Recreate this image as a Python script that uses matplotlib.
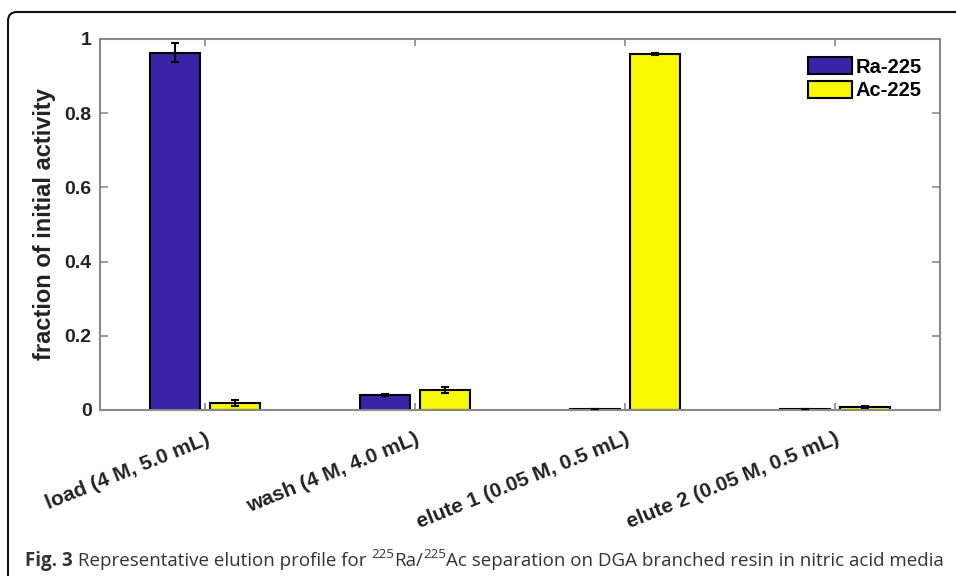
import numpy as np
import matplotlib
matplotlib.use("Agg")
import matplotlib.pyplot as plt
from matplotlib.patches import FancyBboxPatch, Patch
from matplotlib.transforms import IdentityTransform

# values
steps = ["load (4 M, 5.0 mL)", "wash (4 M, 4.0 mL)",
         "elute 1 (0.05 M, 0.5 mL)", "elute 2 (0.05 M, 0.5 mL)"]
ra = [0.963, 0.040, 0.002, 0.002]
ra_err = [0.026, 0.003, 0.0, 0.0]
ac = [0.020, 0.054, 0.960, 0.008]
ac_err = [0.008, 0.007, 0.003, 0.002]
series_names = ["Ra-225", "Ac-225"]
yticks = [0, 0.2, 0.4, 0.6, 0.8, 1]

blue = "#3b22a6"
yellow = "#f8f800"
grey = "#8a8a8a"

fig = plt.figure(figsize=(9.56, 5.76), dpi=100)
ax = fig.add_axes([0.1046, 0.2882, 0.8787, 0.6441])

x = np.arange(1, len(steps) + 1)
w = 0.238
off = 0.143
ax.bar(x - off, ra, w, color=blue, edgecolor="black", linewidth=1.5, zorder=2)
ax.bar(x + off, ac, w, color=yellow, edgecolor="black", linewidth=1.5, zorder=2)
ax.errorbar(x - off, ra, yerr=ra_err, fmt="none", ecolor="black",
            elinewidth=1.5, capsize=3, capthick=1.5, zorder=3)
ax.errorbar(x + off, ac, yerr=ac_err, fmt="none", ecolor="black",
            elinewidth=1.5, capsize=3, capthick=1.5, zorder=3)

ax.set_xlim(0.5, 4.5)
ax.set_ylim(0, 1)
ax.set_xticks(x)
ax.set_yticks(yticks)
ax.set_yticklabels([f"{t:g}" for t in yticks], fontsize=14, fontweight="bold",
                   family="Liberation Sans", color="#222222")
ax.set_xticklabels(steps, rotation=22, ha="right", rotation_mode="anchor",
                   fontsize=15, fontweight="bold", family="Liberation Sans",
                   color="#222222")
ax.tick_params(direction="in", top=True, right=True, color=grey, width=1.2,
               length=6, pad=6)
ax.tick_params(axis="x", length=5, pad=14)
for s in ax.spines.values():
    s.set_color(grey)
    s.set_linewidth(1.5)

ax.set_ylabel("fraction of initial activity", fontsize=17, fontweight="bold",
              family="Liberation Sans", color="#222222", labelpad=6)

handles = [Patch(facecolor=blue, edgecolor="black", linewidth=1.5),
           Patch(facecolor=yellow, edgecolor="black", linewidth=1.5)]
leg = ax.legend(handles, series_names, loc="upper right", frameon=False,
                bbox_to_anchor=(0.997, 0.995), handlelength=2.2, handleheight=0.95,
                handletextpad=0.15, labelspacing=0.2, borderpad=0.3,
                prop={"family": "Liberation Sans", "weight": "bold", "size": 14.5})

# outer frame with rounded top-left corner
frame = FancyBboxPatch((8, -30), 1000, 576 - 12 + 30,
                       boxstyle="round,pad=0,rounding_size=9",
                       transform=IdentityTransform(), facecolor="none",
                       edgecolor="#111111", linewidth=1.5)
fig.add_artist(frame)

# caption with superscripts, drawn piece by piece
renderer = fig.canvas.get_renderer()
pieces = [("Fig. 3", "bold", False),
          (" Representative elution profile for ", "normal", False),
          ("225", "normal", True), ("Ra/", "normal", False),
          ("225", "normal", True),
          ("Ac separation on DGA branched resin in nitric acid media", "normal", False)]
xpos = 25
base = 10
for txt, weight, sup in pieces:
    size = 9.5 if sup else 13.5
    yy = base + (8 if sup else 0)
    t = fig.text(xpos, yy, txt, transform=IdentityTransform(), fontsize=size,
                 fontweight=weight, family="Open Sans", color="#333333",
                 va="baseline", ha="left")
    bb = t.get_window_extent(renderer)
    xpos += bb.width

fig.savefig("out.png", dpi=100)
